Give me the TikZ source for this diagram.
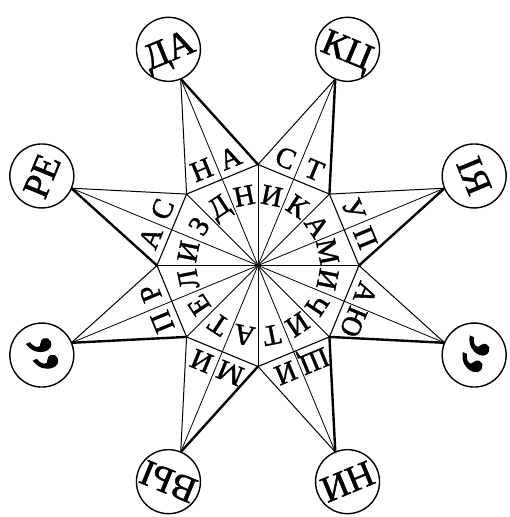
\documentclass[tikz,border=0pt]{standalone}
\usepackage{fontspec}
\setmainfont{Liberation Serif}
\newfontfamily\letterfont{Liberation Serif}[FakeBold=1.3]
\begin{document}
\begin{tikzpicture}[x=1pt,y=1pt,
  radial/.style={line width=0.8pt},
  octedge/.style={line width=1.1pt},
  spikethin/.style={line width=1.0pt},
  spikethick/.style={line width=2.4pt, line cap=round},
  tipcircle/.style={circle, draw, fill=white, line width=1.4pt, minimum size=64pt, inner sep=0pt,
    font=\letterfont\fontsize{37}{37}\selectfont, text height=24.5pt, text depth=0pt},
  quotemark/.style={inner sep=0pt, font=\letterfont\fontsize{88}{88}\selectfont},
  octletter/.style={inner sep=0pt, font=\letterfont\fontsize{29}{29}\selectfont, text height=19pt, text depth=0pt},
  spikeletter/.style={inner sep=0pt, font=\letterfont\fontsize{29}{29}\selectfont, text height=19pt, text depth=0pt},
]
\useasboundingbox (-258,-251.5) rectangle (252,265.5);
\coordinate (O) at (0,0);
\foreach \i in {0,...,7} {
  \coordinate (v\i) at ({45*\i}:101);
  \coordinate (t\i) at ({22.5+45*\i}:202);
}
% radial lines
\foreach \i in {0,...,7} {
  \draw[radial] (O) -- (v\i);
  \draw[radial] (O) -- (t\i);
}
% octagon
\draw[octedge] (v0) -- (v1) -- (v2) -- (v3) -- (v4) -- (v5) -- (v6) -- (v7) -- cycle;
% spikes: thin and shaded edges
\draw[spikethin] (t0) -- (v1);  \draw[spikethick] (t0) -- (v0);
\draw[spikethin] (t1) -- (v2);  \draw[spikethick] (t1) -- (v1);
\draw[spikethin] (t2) -- (v3);  \draw[spikethick] (t2) -- (v2);
\draw[spikethin] (t3) -- (v3);  \draw[spikethick] (t3) -- (v4);
\draw[spikethin] (t4) -- (v4);  \draw[spikethick] (t4) -- (v5);
\draw[spikethin] (t5) -- (v5);  \draw[spikethick] (t5) -- (v6);
\draw[spikethin] (t6) -- (v6);  \draw[spikethick] (t6) -- (v7);
\draw[spikethin] (t7) -- (v0);  \draw[spikethick] (t7) -- (v7);
% circles at the tips
\node[tipcircle, rotate=-67.5] (cIA) at (22.5:234) {ІЯ};
\node[tipcircle, rotate=-22.5] (cKC) at (67.5:234) {КЦ};
\node[tipcircle, rotate=22.5] (cDA) at (112.5:234) {ДА};
\node[tipcircle, rotate=67.5] (cRE) at (157.5:234) {РЕ};
\node[tipcircle] (cQL) at (202.5:234) {};
\node[tipcircle, rotate=157.5] (cVY) at (247.5:234) {ВЫ};
\node[tipcircle, rotate=-157.5] (cNI) at (292.5:234) {НИ};
\node[tipcircle] (cQR) at (337.5:234) {};
\node[quotemark, rotate=112.5] (qL) at (cQL) {\raisebox{-0.555em}[0pt][0pt]{\makebox[0pt]{“}}};
\node[quotemark, rotate=-112.5] (qR) at (cQR) {\raisebox{0.03em}[0pt][0pt]{\makebox[0pt]{„}}};
% letters in the octagon
\foreach \a/\l [count=\k] in {168.75/И, 146.25/З, 123.75/Д, 101.25/Н, 78.75/И, 56.25/К, 33.75/А, 11.25/М,
  -11.25/И, -33.75/Ч, -56.25/И, -78.75/Т, -101.25/А, -123.75/Т, -146.25/Е, -168.75/Л} {
  \node[octletter, rotate=\a-90] (o\k) at (\a:71) {\l};
}
% letters in the spikes
\foreach \a/\l/\r [count=\k] in {165.5/А/157.5, 149.5/С/157.5, 120.5/Н/112.5, 104.5/А/112.5,
  75.5/С/67.5, 59.5/Т/67.5, 30.5/У/22.5, 14.5/П/22.5,
  -14.5/А/-22.5, -30.5/Ю/-22.5, -59.5/Щ/-67.5, -75.5/И/-67.5,
  -104.5/М/-112.5, -120.5/И/-112.5, -149.5/П/-157.5, -165.5/Р/-157.5} {
  \node[spikeletter, rotate=\r-90] (s\k) at (\a:111) {\l};
}
\end{tikzpicture}
\end{document}
